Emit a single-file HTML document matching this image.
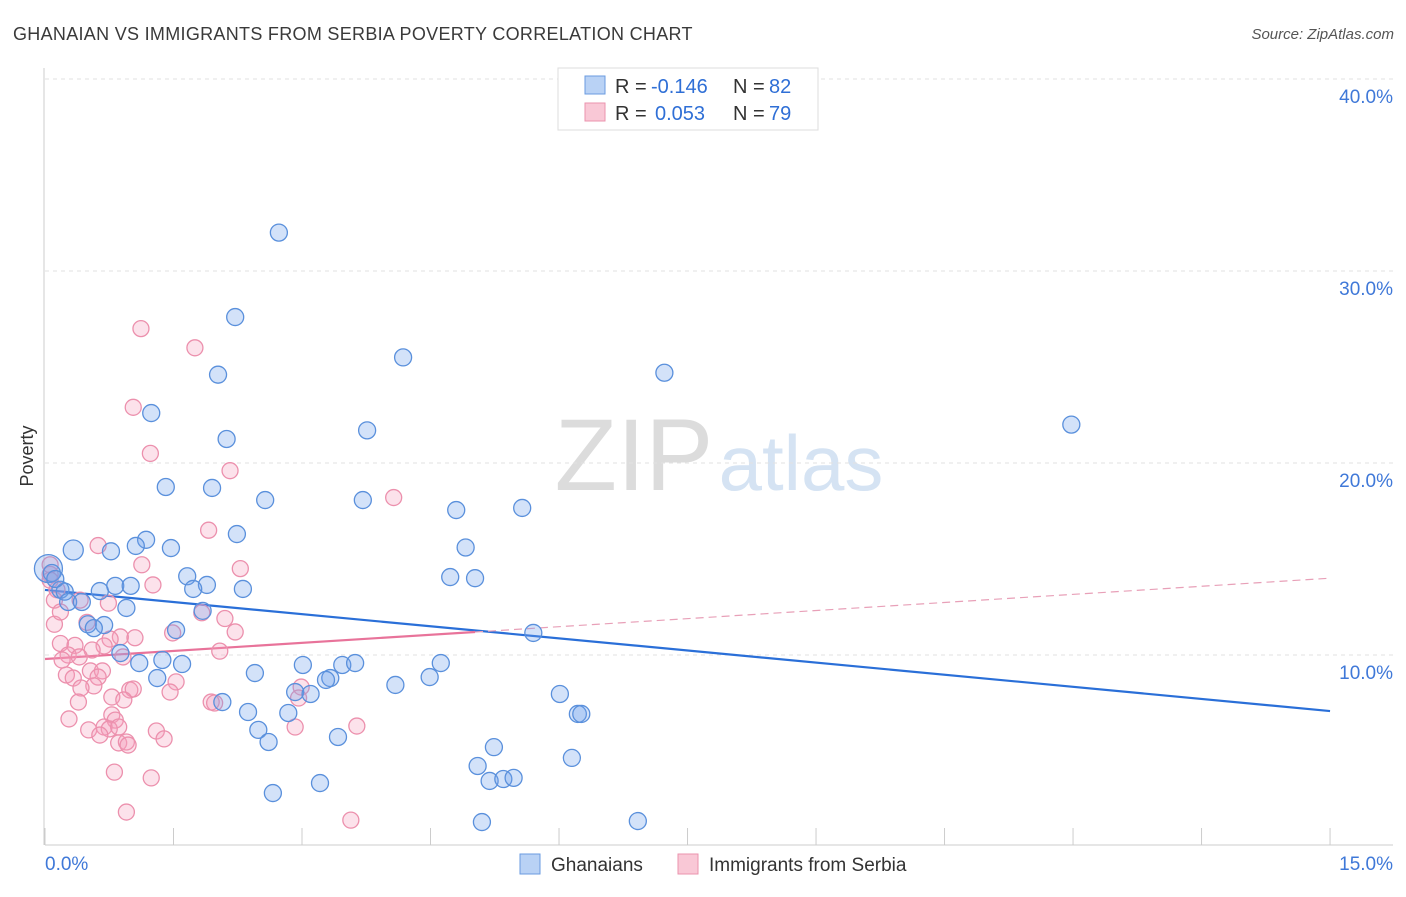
<!DOCTYPE html>
<html><head><meta charset="utf-8">
<style>
body{margin:0;background:#fff;font-family:"Liberation Sans",sans-serif;}
svg text{font-family:"Liberation Sans",sans-serif;}
</style></head>
<body>
<svg id="chart" width="1406" height="892" xmlns="http://www.w3.org/2000/svg">
<text x="13" y="40" font-size="18" letter-spacing="0.3" fill="#3a3a3a">GHANAIAN VS IMMIGRANTS FROM SERBIA POVERTY CORRELATION CHART</text>
<text x="1394" y="39" font-size="15" fill="#555" text-anchor="end" font-style="italic">Source: ZipAtlas.com</text>
<g>
<text x="634" y="490" font-size="102" fill="#dcdcdc" text-anchor="middle" font-family="Liberation Serif">ZIP</text>
<text x="801" y="490" font-size="78" fill="#d5e3f3" text-anchor="middle">atlas</text>
</g>
<g id="grid"></g>
<g id="axes"></g>
<g id="trend"></g>
<g id="pts"></g>
<g>
<rect x="558" y="68" width="260" height="62" fill="#fff" stroke="#ddd"/>
<rect x="585" y="76" width="20" height="18" fill="#b9d2f5" stroke="#6a9be0"/>
<rect x="585" y="103" width="20" height="18" fill="#f9c8d6" stroke="#eb93ae"/>
<text x="615" y="93" font-size="20" fill="#333">R =</text>
<text x="651" y="93" font-size="20" fill="#2f6fd6">-0.146</text>
<text x="733" y="93" font-size="20" fill="#333">N =</text>
<text x="769" y="93" font-size="20" fill="#2f6fd6">82</text>
<text x="615" y="120" font-size="20" fill="#333">R =</text>
<text x="655" y="120" font-size="20" fill="#2f6fd6">0.053</text>
<text x="733" y="120" font-size="20" fill="#333">N =</text>
<text x="769" y="120" font-size="20" fill="#2f6fd6">79</text>
</g>
<g>
<rect x="520" y="854" width="20" height="20" fill="#b9d2f5" stroke="#6a9be0"/>
<text x="551" y="871" font-size="19" fill="#333">Ghanaians</text>
<rect x="678" y="854" width="20" height="20" fill="#f9c8d6" stroke="#eb93ae"/>
<text x="709" y="871" font-size="19" fill="#333">Immigrants from Serbia</text>
</g>
<text transform="translate(33,456) rotate(-90)" font-size="18" fill="#333" text-anchor="middle">Poverty</text>
</svg>
<script>
const yTicks=[10,20,30,40];
const yTickLabels=["10.0%","20.0%","30.0%","40.0%"];
const xTickLabels=["0.0%","15.0%"];
const blueX=[2.73,2.22,4.18,7.23,2.02,1.24,11.98,3.76,2.12,1.41,1.95,2.57,3.71,4.80,5.57,2.24,1.18,0.77,0.33,1.47,1.06,4.91,1.66,4.73,5.02,0.82,1.00,1.89,2.31,1.73,0.64,0.18,0.23,0.27,0.43,0.95,1.84,0.50,0.69,0.57,1.53,5.70,0.88,1.10,1.37,1.60,3.01,2.45,3.47,3.62,4.62,3.33,3.28,1.31,4.49,4.09,2.92,3.10,6.01,2.07,2.37,2.84,6.22,6.26,2.49,3.42,2.61,5.24,6.15,5.05,5.19,5.35,5.47,3.21,2.66,5.10,6.92,0.04,0.08,0.12];
const blueY=[32.0,27.6,25.5,24.7,24.6,22.6,22.0,21.7,21.25,18.75,18.7,18.07,18.07,17.55,17.66,16.3,16.0,15.4,15.47,15.57,15.68,15.6,14.1,14.06,14.0,13.6,13.6,13.65,13.44,13.44,13.33,13.4,13.3,12.76,12.76,12.45,12.3,11.6,11.56,11.4,11.3,11.15,10.1,9.58,9.74,9.53,9.48,9.06,9.48,9.58,9.58,8.8,8.7,8.8,8.85,8.44,8.07,7.97,7.97,7.55,7.03,6.98,6.93,6.93,6.1,5.73,5.47,5.2,4.64,4.22,3.44,3.54,3.6,3.33,2.81,1.3,1.35,14.5,14.27,13.96];
const pinkX=[1.12,1.75,1.03,1.23,2.16,4.07,1.91,0.62,2.28,1.13,1.26,0.14,0.06,0.06,0.41,0.74,1.83,2.10,0.11,0.49,1.49,2.22,0.88,1.05,0.18,0.76,0.69,0.35,0.55,2.04,0.27,0.40,0.91,0.20,0.53,0.67,0.25,0.33,0.62,0.57,1.53,0.42,0.99,1.03,0.78,2.99,1.46,0.92,1.94,2.96,0.39,1.98,0.28,0.78,0.82,0.69,0.75,0.86,1.30,0.51,0.64,2.92,3.64,1.39,0.86,0.95,0.97,0.81,1.24,0.95,3.57,0.06,0.11,0.18];
const pinkY=[27.0,26.0,22.9,20.5,19.6,18.2,16.5,15.7,14.5,14.7,13.65,13.4,14.2,14.7,12.86,12.7,12.2,11.9,11.6,11.7,11.15,11.2,10.94,10.9,10.6,10.83,10.47,10.5,10.26,10.2,10.0,9.9,9.9,9.74,9.17,9.17,8.96,8.8,8.85,8.39,8.6,8.28,8.18,8.23,7.81,8.33,8.07,7.66,7.55,7.76,7.55,7.5,6.67,6.88,6.61,6.25,6.15,6.25,6.04,6.1,5.83,6.25,6.3,5.63,5.42,5.47,5.31,3.9,3.6,1.82,1.4,13.9,12.86,12.24];
const blueTrend=[13.39,7.08];
const pinkTrend=[9.79,14.0];
const pinkSolidEnd=5.02;

const NS="http://www.w3.org/2000/svg";
const X=v=>45+v*85.67, Y=v=>847-v*19.2;
function mk(tag,attrs,parent){const e=document.createElementNS(NS,tag);for(const k in attrs)e.setAttribute(k,attrs[k]);parent.appendChild(e);return e;}
const grid=document.getElementById('grid'),axes=document.getElementById('axes'),trend=document.getElementById('trend'),pts=document.getElementById('pts');
yTicks.forEach((t,i)=>{
 const l=mk('line',{x1:45,x2:1393,y1:Y(t),y2:Y(t),stroke:'#e2e2e2','stroke-dasharray':'4,4'},grid);
 
 
 const tx=mk('text',{x:1393,y:Y(t)+24,'font-size':19,fill:'#3f78d8','text-anchor':'end'},axes);
 tx.textContent=yTickLabels[i];
 
 
});
const ax=mk('line',{x1:45,x2:1393,y1:845,y2:845,stroke:'#ccc'},axes);


const ay=mk('line',{x1:44,x2:44,y1:68,y2:845,stroke:'#ccc'},axes);


for(let i=0;i<=10;i++){const t=mk('line',{x1:X(i*1.5),x2:X(i*1.5),y1:828,y2:845,stroke:'#ccc'},axes);
 
 }
const xl0=mk('text',{x:45,y:870,'font-size':19,fill:'#3f78d8'},axes);xl0.textContent=xTickLabels[0];


const xl1=mk('text',{x:1393,y:870,'font-size':19,fill:'#3f78d8','text-anchor':'end'},axes);xl1.textContent=xTickLabels[1];



function dot(x,y,r,fill,stroke,name){const c=mk('circle',{cx:X(x),cy:Y(y),r:r,fill:fill,stroke:stroke,'stroke-width':1.3},pts);
 
 }
pinkX.forEach((x,i)=>dot(x,pinkY[i],8,'rgba(244,160,188,0.3)','#ec90ad','serbia-point'));
blueX.forEach((x,i)=>{let r=8.5;if(i===77)r=14;if(i===18)r=10;dot(x,blueY[i],r,'rgba(110,160,235,0.3)','#5a90dc','ghanaian-point');});

const bl=mk('line',{x1:X(0),y1:Y(blueTrend[0]),x2:X(15),y2:Y(blueTrend[1]),stroke:'#2a6fd8','stroke-width':2.2},trend);


const py=x=>pinkTrend[0]+(pinkTrend[1]-pinkTrend[0])*x/15;
const ps=mk('line',{x1:X(0),y1:Y(pinkTrend[0]),x2:X(pinkSolidEnd),y2:Y(py(pinkSolidEnd)),stroke:'#e8739a','stroke-width':2.2},trend);


const pd=mk('line',{x1:X(pinkSolidEnd),y1:Y(py(pinkSolidEnd)),x2:X(15),y2:Y(pinkTrend[1]),stroke:'#e8a0b8','stroke-width':1.2,'stroke-dasharray':'8,5'},trend);


</script>
</body></html>
